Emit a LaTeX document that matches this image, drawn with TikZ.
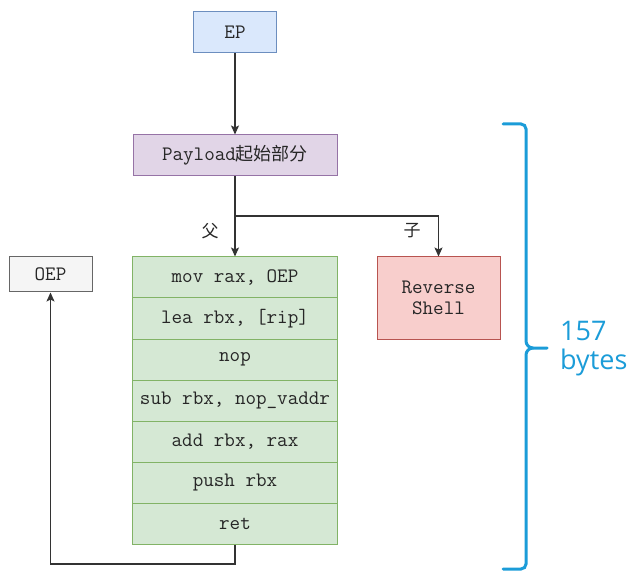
\documentclass[tikz,border=0pt]{standalone}
\usepackage{fontspec}
\newfontfamily\cjkfont{Noto Sans CJK SC}
\newfontfamily\bracefont{Open Sans}
\usetikzlibrary{arrows.meta}

\definecolor{epfill}{HTML}{DAE8FC}\definecolor{epline}{HTML}{6C8EBF}
\definecolor{pfill}{HTML}{E1D5E7}\definecolor{pline}{HTML}{9673A6}
\definecolor{gfill}{HTML}{F5F5F5}\definecolor{gline}{HTML}{666666}
\definecolor{sfill}{HTML}{D5E8D4}\definecolor{sline}{HTML}{82B366}
\definecolor{rfill}{HTML}{F8CECC}\definecolor{rline}{HTML}{B85450}
\definecolor{wire}{HTML}{333333}
\definecolor{bracecol}{RGB}{27,156,216}

\tikzset{
  box/.style={draw, line width=1pt, inner sep=0pt, align=center, text=black!85,
    font=\ttfamily\fontsize{20.5}{21}\selectfont},
  epbox/.style={box, fill=epfill, draw=epline, minimum width=83pt, minimum height=41pt},
  paybox/.style={box, fill=pfill, draw=pline, minimum width=204pt, minimum height=41pt},
  oepbox/.style={box, fill=gfill, draw=gline, minimum width=83pt, minimum height=35pt},
  row/.style={box, fill=sfill, draw=sline, minimum width=205pt, minimum height=41pt},
  rsbox/.style={box, fill=rfill, draw=rline, minimum width=123pt, minimum height=82pt},
  conn/.style={draw=wire, line width=1.3pt, -{Stealth[length=9pt,width=8pt,inset=2pt]}},
  branchlabel/.style={inner sep=0pt, font=\cjkfont\fontsize{17}{17}\selectfont, text=black!85},
  bracepath/.style={draw=bracecol, line width=3pt},
  bracelabel/.style={inner sep=0pt, align=left, text=bracecol,
    font=\bracefont\fontsize{27}{29}\selectfont}
}

\begin{document}
\begin{tikzpicture}[x=1pt, y=-1pt]
\useasboundingbox (0,0) rectangle (635,572);

% boxes
\node[epbox]  (ep)  at (235,32.5)  {EP};
\node[paybox] (pay) at (235,155.5) {Payload{\cjkfont\fontsize{18}{21}\selectfont 起始部分}};
\node[oepbox] (oep) at (50.5,274.5) {OEP};
\node[rsbox]  (rs)  at (438.5,298) {Reverse\\Shell};

% instruction stack
\node[row] (r1) at (235,277.5) {mov rax, OEP};
\node[row] (r2) at (235,318.5) {lea rbx, [rip]};
\node[row] (r3) at (235,359.5) {nop};
\node[row] (r4) at (235,400.5) {sub rbx, nop\_vaddr};
\node[row] (r5) at (235,441.5) {add rbx, rax};
\node[row] (r6) at (235,482.5) {push rbx};
\node[row] (r7) at (235,523.5) {ret};

% connectors
\coordinate (split) at (235,216);
\coordinate (loopy) at (0,564);
\draw[conn] (ep) -- (pay);
\draw[conn] (pay) -- (r1);
\draw[conn] (split) -| (rs.north);
\draw[conn] (r7.south) -- (r7.south |- loopy) -| (oep.south);

\node[branchlabel] (fa) at (210,231) {父};
\node[branchlabel] (zi) at (412,231) {子};

% size brace
\coordinate (btop) at (503,124);
\coordinate (btip) at (547,348);
\coordinate (bbot) at (503,569);
\draw[bracepath, line cap=round]
  (btop) -- (521,124) to[out=0,in=90] (526,129) -- (526,341)
  to[out=-90,in=180] (533,348) -- (btip);
\draw[bracepath, line cap=round]
  (533,348) to[out=180,in=90] (526,355) -- (526,564)
  to[out=-90,in=0] (521,569) -- (bbot);
\node[bracelabel, anchor=west] (size) at (560,349) {157\\bytes};
\end{tikzpicture}
\end{document}
